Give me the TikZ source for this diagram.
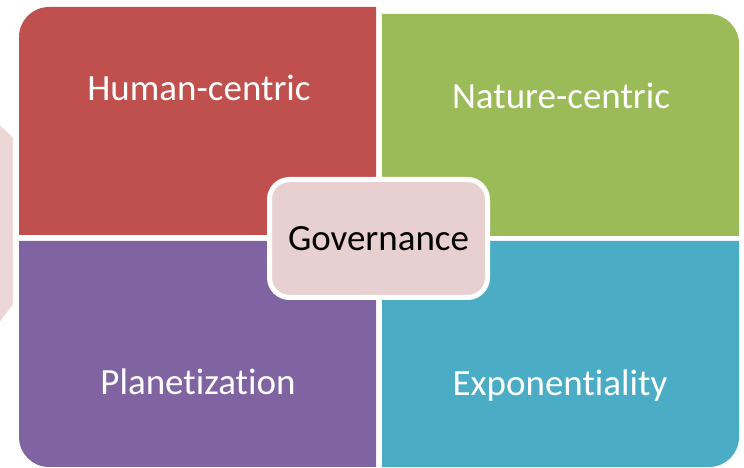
\documentclass[tikz,border=0pt]{standalone}
\usepackage{fontspec}
\setmainfont[Ligatures=NoCommon]{Carlito}
\definecolor{qred}{HTML}{C0504D}
\definecolor{qgreen}{HTML}{9BBB59}
\definecolor{qpurple}{HTML}{8064A2}
\definecolor{qblue}{HTML}{4BACC6}
\definecolor{hubfill}{HTML}{E8D0D0}
\definecolor{sidefill}{HTML}{EDD6D6}
\begin{document}
\begin{tikzpicture}[x=1pt,y=1pt,
  quadlabel/.style={text=white,font=\fontsize{37}{42}\selectfont,inner sep=0pt},
  hub/.style={draw=white,line width=5pt,fill=hubfill,rounded corners=20pt,
    minimum width=218pt,minimum height=118pt,font=\fontsize{37}{42}\selectfont,text=black}]
  \useasboundingbox (0,0) rectangle (744,468);
  \clip (0,0) rectangle (744,468);
  % partly hidden side shape
  \filldraw[fill=sidefill,draw=white,draw opacity=0.6,line width=1pt]
    (-30,362) -- (0,343) -- (13,331) -- (13,163) -- (0,146) -- (-30,126) -- cycle;
  % four quadrants, each rounded only at its outer corner
  \fill[qred] (19,233) -- (19,431) arc[start angle=180,end angle=90,radius=30] -- (376,461) -- (376,233) -- cycle;
  \fill[qgreen] (382,232) -- (382,454) -- (709,454) arc[start angle=90,end angle=0,radius=30] -- (739,232) -- cycle;
  \fill[qpurple] (19,227) -- (19,31) arc[start angle=180,end angle=270,radius=30] -- (376,1) -- (376,227) -- cycle;
  \fill[qblue] (382,227) -- (382,1) -- (709,1) arc[start angle=270,end angle=360,radius=30] -- (739,227) -- cycle;
  % labels
  \node[quadlabel,anchor=base] (human) at (199,367) {Human-centric};
  \node[quadlabel,anchor=base] (nature) at (561,359) {Nature-centric};
  \node[quadlabel,anchor=base] (planet) at (198,73) {Planetization};
  \node[quadlabel,anchor=base] (expo) at (560,72) {Exponentiality};
  % centre box
  \node[hub] (gov) at (378.5,229.5) {Governance};
\end{tikzpicture}
\end{document}
